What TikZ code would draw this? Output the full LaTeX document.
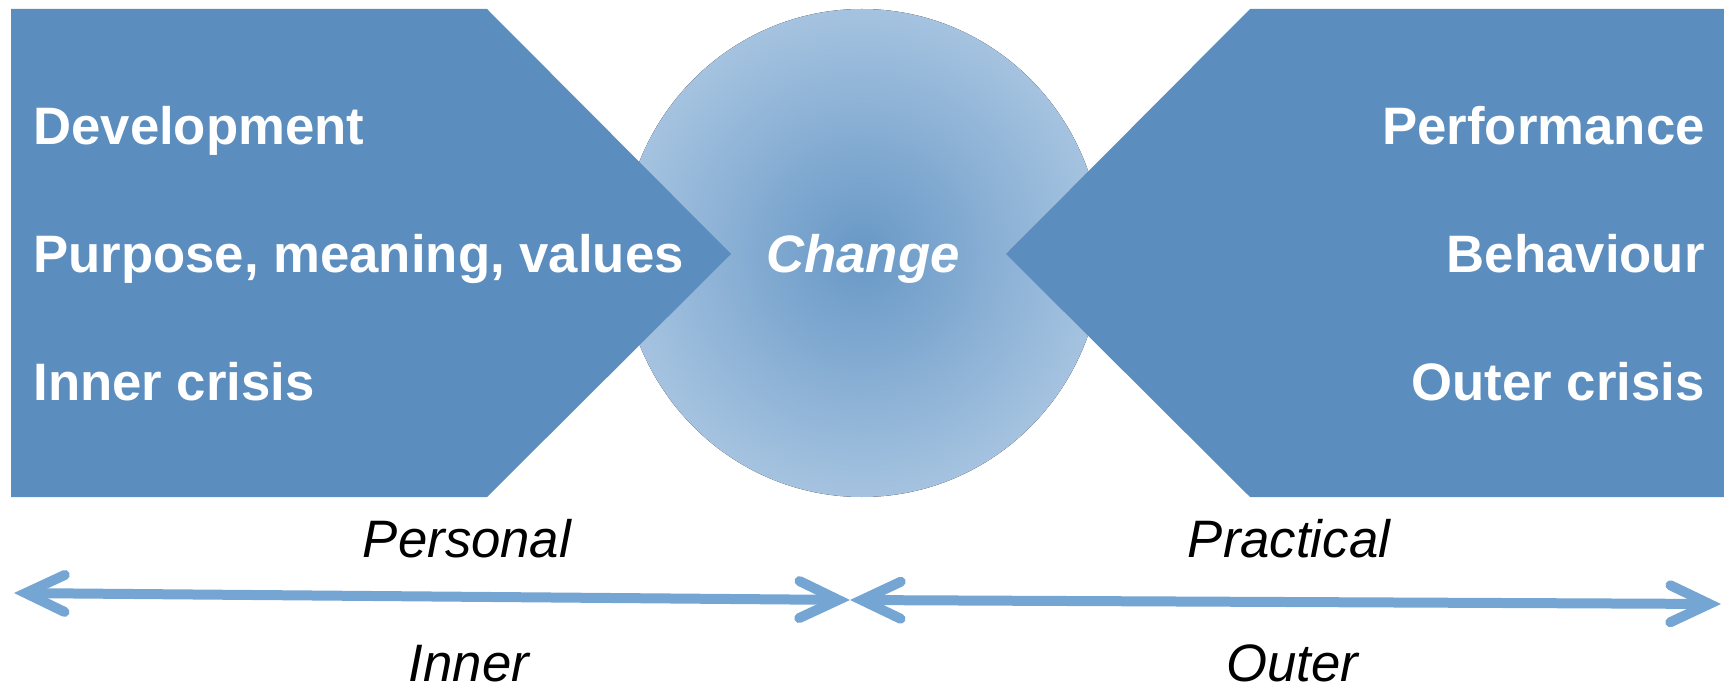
\documentclass[tikz,border=0pt]{standalone}
\usepackage{fontspec}
\setmainfont{Liberation Sans}
\usetikzlibrary{arrows.meta}
\definecolor{boxblue}{HTML}{5B8DBE}
\definecolor{ringout}{HTML}{A5C3E0}
\definecolor{ringin}{HTML}{6898C6}
\definecolor{axisblue}{HTML}{75A5D3}
\begin{document}
\begin{tikzpicture}
    [
    x=0.02cm, y=-0.02cm,
    word/.style={font=\fontsize{30}{36}\selectfont\bfseries, text=white, inner sep=0pt},
    side/.style={font=\fontsize{30}{36}\selectfont\itshape, inner sep=0pt, anchor=base},
    axis/.style={draw=axisblue, line width=0.2cm,
      {Straight Barb[length=0.78cm, width=0.74cm, line cap=round]}-{Straight Barb[length=0.78cm, width=0.74cm, line cap=round]}}
    ]
    \useasboundingbox (0,0) rectangle (1724,689);
    \fill [inner color=ringin, outer color=ringout] (862,253) ellipse [x radius=240, y radius=244];
    \fill [boxblue] (11,9) -- (487,9) -- (731,254) -- (487,497) -- (11,497) -- cycle;
    \fill [boxblue] (1724,9) -- (1250,9) -- (1006,254) -- (1250,497) -- (1724,497) -- cycle;
    \node (dev) at (33,145) [word, anchor=base west] {Development};
    \node (pur) at (33,273) [word, anchor=base west] {Purpose, meaning, values};
    \node (inc) at (33,400) [word, anchor=base west] {Inner crisis};
    \node (per) at (1705,145) [word, anchor=base east] {Performance};
    \node (beh) at (1705,273) [word, anchor=base east] {Behaviour};
    \node (ouc) at (1705,400) [word, anchor=base east] {Outer crisis};
    \node (chg) at (863,273) [word, anchor=base, font=\fontsize{30}{36}\selectfont\bfseries\itshape] {Change};
    \node (pers) at (467,557) [side] {Personal};
    \node (prac) at (1289,557) [side] {Practical};
    \node (inn) at (469,681) [side] {Inner};
    \node (out) at (1292,681) [side] {Outer};
    \coordinate (l) at (14,593);
    \coordinate (m) at (850,600);
    \coordinate (r) at (1721,604);
    \draw [axis] (l) to (m);
    \draw [axis] (m) to (r);
  \end{tikzpicture}
\end{document}
